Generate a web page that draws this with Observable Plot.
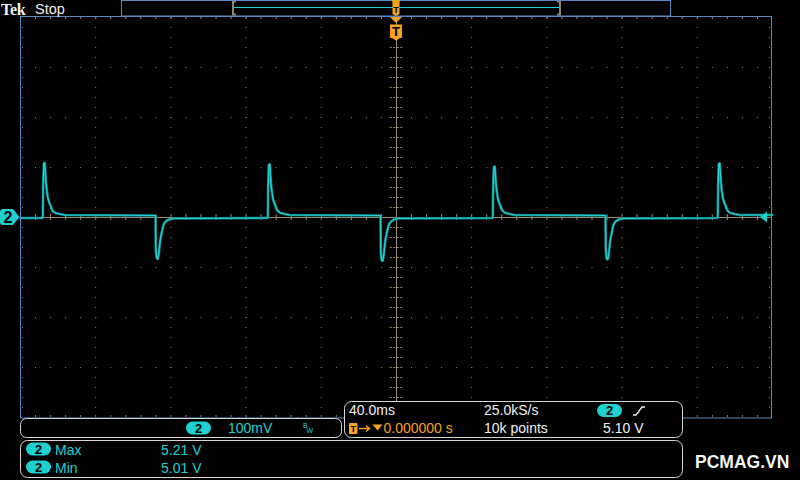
<!DOCTYPE html>
<html><head><meta charset="utf-8">
<script src="https://cdn.jsdelivr.net/npm/d3@7"></script>
<script src="https://cdn.jsdelivr.net/npm/@observablehq/plot@0.6"></script>
<style>html,body{margin:0;padding:0;background:#000;overflow:hidden}</style>
</head><body><div id="chart"></div>
<script>
// ---- data (time in ms, voltage in V) ----
const traceTime = [-200,
 -188.13,-187.97,-187.60,-187.07,-186.69,-186.16,-185.47,-184.73,-184.03,-183.50,-182.60,-181.37,-179.09,-176.43,
 -128.19,-128.03,-127.66,-127.13,-126.75,-126.43,-125.90,-125.37,-124.63,-124.09,-123.40,-122.50,-121.12,-118.62,
 -68.45,-68.29,-67.92,-67.39,-67.01,-66.48,-65.79,-65.05,-64.35,-63.82,-62.92,-61.69,-59.41,-56.75,
 -8.51,-8.35,-7.98,-7.45,-7.07,-6.75,-6.22,-5.69,-4.95,-4.41,-3.72,-2.82,-1.44,1.06,
 51.23,51.39,51.76,52.29,52.67,53.20,53.89,54.63,55.33,55.86,56.76,57.99,60.27,62.93,
 111.17,111.33,111.70,112.23,112.61,112.93,113.46,113.99,114.73,115.27,115.96,116.86,118.24,120.74,
 170.90,171.06,171.43,171.96,172.34,172.87,173.56,174.30,175.00,175.53,176.43,177.66,179.94,182.60,
 200];
const traceVolt = [5.099,
 5.099,5.164,5.208,5.210,5.184,5.158,5.140,5.130,5.124,5.118,5.112,5.109,5.107,5.105,
 5.104,5.034,5.022,5.016,5.022,5.028,5.048,5.061,5.074,5.083,5.089,5.093,5.096,5.098,
 5.099,5.160,5.205,5.207,5.182,5.157,5.139,5.129,5.123,5.117,5.112,5.109,5.107,5.105,
 5.104,5.030,5.016,5.012,5.018,5.026,5.046,5.060,5.073,5.082,5.088,5.092,5.096,5.098,
 5.099,5.158,5.200,5.203,5.180,5.156,5.139,5.129,5.123,5.117,5.112,5.109,5.107,5.105,
 5.104,5.033,5.020,5.015,5.020,5.027,5.047,5.061,5.074,5.083,5.089,5.093,5.096,5.098,
 5.099,5.164,5.207,5.209,5.184,5.158,5.140,5.130,5.124,5.118,5.112,5.109,5.107,5.105,
 5.105];
const timeDomain = [-200, 200];           // 10 div x 40 ms
const voltDomain = [4.70, 5.50];          // 8 div x 100 mV, centred on 5.10 V
const gridTimes = [-160, -120, -80, -40, 40, 80, 120, 160];
const gridVolts = [4.80, 4.90, 5.00, 5.20, 5.30, 5.40];
const centerTime = 0;
const centerVolt = 5.10;
const triggerLevel = 5.10;
const channelLabel = "2";
const scaleLabel = "100mV";
const timebaseLabel = "40.0ms";
const sampleLabel = "25.0kS/s";
const pointsLabel = "10k points";
const triggerPosLabel = "0.000000 s";
const triggerLevelLabel = "5.10 V";
const measureNames = ["Max", "Min"];
const measureValues = ["5.21 V", "5.01 V"];

const trace = traceTime.map((t, i) => ({t, v: traceVolt[i]}));
const tMinor = d3.range(-192, 200, 8);
const vMinor = d3.range(4.72, 5.49, 0.02);

const tan = "#9a8c6c", gridColor = "#808080", blue = "#5689c6";
const cyan = "#1fd0d0", orange = "#f6a21c", white = "#f0f0f0", boxStroke = "#d6d6d6";
const uiFont = "'Liberation Sans', Arial, sans-serif";

const plot = Plot.plot({
  width: 800, height: 480,
  marginLeft: 20, marginRight: 28, marginTop: 17, marginBottom: 63,
  x: {domain: timeDomain, axis: null},
  y: {domain: voltDomain, axis: null},
  style: {background: "#000", overflow: "visible"},
  marks: [
    Plot.ruleX(gridTimes, {stroke: gridColor, strokeDasharray: "1,9"}),
    Plot.ruleY(gridVolts, {stroke: gridColor, strokeDasharray: "1,14.04"}),
    Plot.ruleX([centerTime], {stroke: tan}),
    Plot.ruleY([centerVolt], {stroke: tan}),
    Plot.ruleY(vMinor, {x1: centerTime - 3.3, x2: centerTime + 3.3, stroke: tan, strokeDasharray: "2,1.5"}),
    Plot.ruleX(tMinor, {y1: centerVolt - 0.006, y2: centerVolt + 0.006, stroke: tan}),
    Plot.ruleX(tMinor, {y1: voltDomain[1], y2: voltDomain[1] - 0.004, stroke: tan}),
    Plot.ruleX(tMinor, {y1: voltDomain[0], y2: voltDomain[0] + 0.004, stroke: gridColor}),
    Plot.ruleY(vMinor, {x1: timeDomain[0], x2: timeDomain[0] + 1.6, stroke: gridColor, strokeDasharray: "1,1"}),
    Plot.ruleY(vMinor, {x1: timeDomain[1], x2: timeDomain[1] - 1.6, stroke: gridColor, strokeDasharray: "1,1"}),
    Plot.line(trace, {x: "t", y: "v", stroke: "#08878a", strokeWidth: 2.6, strokeLinejoin: "miter"}),
    Plot.line(trace, {x: "t", y: "v", stroke: "#26d2d2", strokeWidth: 1.2, strokeLinejoin: "miter"})
  ]
});
document.getElementById("chart").append(plot);

const X = t => plot.scale("x").apply(t);
const Y = v => plot.scale("y").apply(v);
const L = X(timeDomain[0]), R = X(timeDomain[1]), T = Y(voltDomain[1]), B = Y(voltDomain[0]);
const svg = d3.select(plot);
const g = svg.append("g");

function text(x, y, s, opts = {}) {
  return g.append("text").attr("x", x).attr("y", y).text(s)
    .style("font-family", opts.family || uiFont)
    .style("font-size", (opts.size || 14) + "px")
    .style("font-weight", opts.weight || "normal")
    .style("fill", opts.fill || white)
    .attr("text-anchor", opts.anchor || "start");
}
function pill(cx, cy, label) {
  g.append("rect").attr("x", cx - 12.5).attr("y", cy - 6.5).attr("width", 25).attr("height", 13)
    .attr("rx", 6.5).attr("fill", cyan);
  text(cx, cy + 4.5, label, {size: 13, weight: "bold", fill: "#000", anchor: "middle"});
}

// graticule border
g.append("rect").attr("x", L + 0.5).attr("y", T - 0.5).attr("width", R - L - 1).attr("height", B - T + 1.5)
  .attr("fill", "none").attr("stroke", blue);

// top bar
text(1, 14.5, "Tek", {family: "'Liberation Serif', serif", size: 16, weight: "bold"}).attr("letter-spacing", -0.3);
text(35, 13.5, "Stop", {size: 14.5});
g.append("rect").attr("x", 121.5).attr("y", 0.5).attr("width", 549).attr("height", 15.5)
  .attr("fill", "#000").attr("stroke", blue);
g.append("line").attr("x1", 233).attr("x2", 560).attr("y1", 7.5).attr("y2", 7.5).attr("stroke", cyan);
g.append("path").attr("d", "M236,1.5H233V14.5H236").attr("fill", "none").attr("stroke", "#8e8672").attr("stroke-width", 2);
g.append("path").attr("d", "M557,1.5H560V14.5H557").attr("fill", "none").attr("stroke", "#8e8672").attr("stroke-width", 2);

// trigger position markers
const tx = X(centerTime);
g.append("path").attr("d", `M${tx-4},0H${tx+4}L${tx+3.5},3V14L${tx},16L${tx-3.5},14V3Z`).attr("fill", orange);
text(tx, 12.5, "T", {size: 9, weight: "bold", fill: "#000", anchor: "middle"});
g.append("path").attr("d", `M${tx-6},17H${tx+6}L${tx},23Z`).attr("fill", orange);
g.append("path").attr("d", `M${tx-6},24.5H${tx+6}V37L${tx},40.5L${tx-6},37Z`).attr("fill", orange);
text(tx, 35.5, "T", {size: 13, weight: "bold", fill: "#000", anchor: "middle"});

// channel 2 offset marker (left) and trigger level marker (right)
const cy = Y(centerVolt);
g.append("path").attr("d", `M3,${cy-8}H13L19.5,${cy}L13,${cy+8}H3Q0,${cy+8} 0,${cy+5}V${cy-5}Q0,${cy-8} 3,${cy-8}Z`).attr("fill", cyan);
text(8, cy + 6, channelLabel, {size: 16, weight: "bold", fill: "#000", anchor: "middle"});
const ty = Y(triggerLevel);
g.append("path").attr("d", `M${R-12},${ty}L${R-5},${ty-5.5}V${ty+5.5}Z`).attr("fill", cyan);

// box A : vertical scale
g.append("rect").attr("x", 20.5).attr("y", 418.5).attr("width", 321).attr("height", 19).attr("rx", 6)
  .attr("fill", "#000").attr("stroke", boxStroke);
pill(198.5, 428, channelLabel);
text(228, 433, scaleLabel, {fill: cyan});
text(303, 427.5, "B", {size: 7, fill: cyan});
text(306.5, 433, "W", {size: 7, fill: cyan});

// box B : timebase / trigger
g.append("rect").attr("x", 344.5).attr("y", 401.5).attr("width", 338).attr("height", 36).attr("rx", 7)
  .attr("fill", "#000").attr("stroke", boxStroke);
text(349, 415, timebaseLabel);
text(484, 415, sampleLabel);
pill(609.5, 410.5, channelLabel);
g.append("path").attr("d", "M633,415H636L642,407H645").attr("fill", "none").attr("stroke", white).attr("stroke-width", 1.3);
g.append("rect").attr("x", 349).attr("y", 423).attr("width", 8.5).attr("height", 11).attr("rx", 1).attr("fill", orange);
text(353.25, 432, "T", {size: 9, weight: "bold", fill: "#000", anchor: "middle"});
g.append("path").attr("d", "M359,428.5H369M366,425.5L369.5,428.5L366,431.5").attr("fill", "none").attr("stroke", orange).attr("stroke-width", 1.4);
g.append("path").attr("d", "M372.5,424.5H382.5L377.5,430.5Z").attr("fill", orange);
text(383.5, 433, triggerPosLabel, {fill: orange});
text(484, 433, pointsLabel);
text(603, 433, triggerLevelLabel);

// box C : measurements
g.append("rect").attr("x", 20.5).attr("y", 440.5).attr("width", 662).attr("height", 37).attr("rx", 7)
  .attr("fill", "#000").attr("stroke", boxStroke);
measureNames.forEach((name, i) => {
  const yy = 449 + i * 18;
  pill(38.5, yy, channelLabel);
  text(55, yy + 6, name, {fill: cyan});
  text(161, yy + 6, measureValues[i], {fill: cyan});
});

// watermark
text(695, 467.5, "PCMAG.VN", {size: 17.5, weight: "bold", fill: "#f4f4f4"});
</script>
</body></html>
